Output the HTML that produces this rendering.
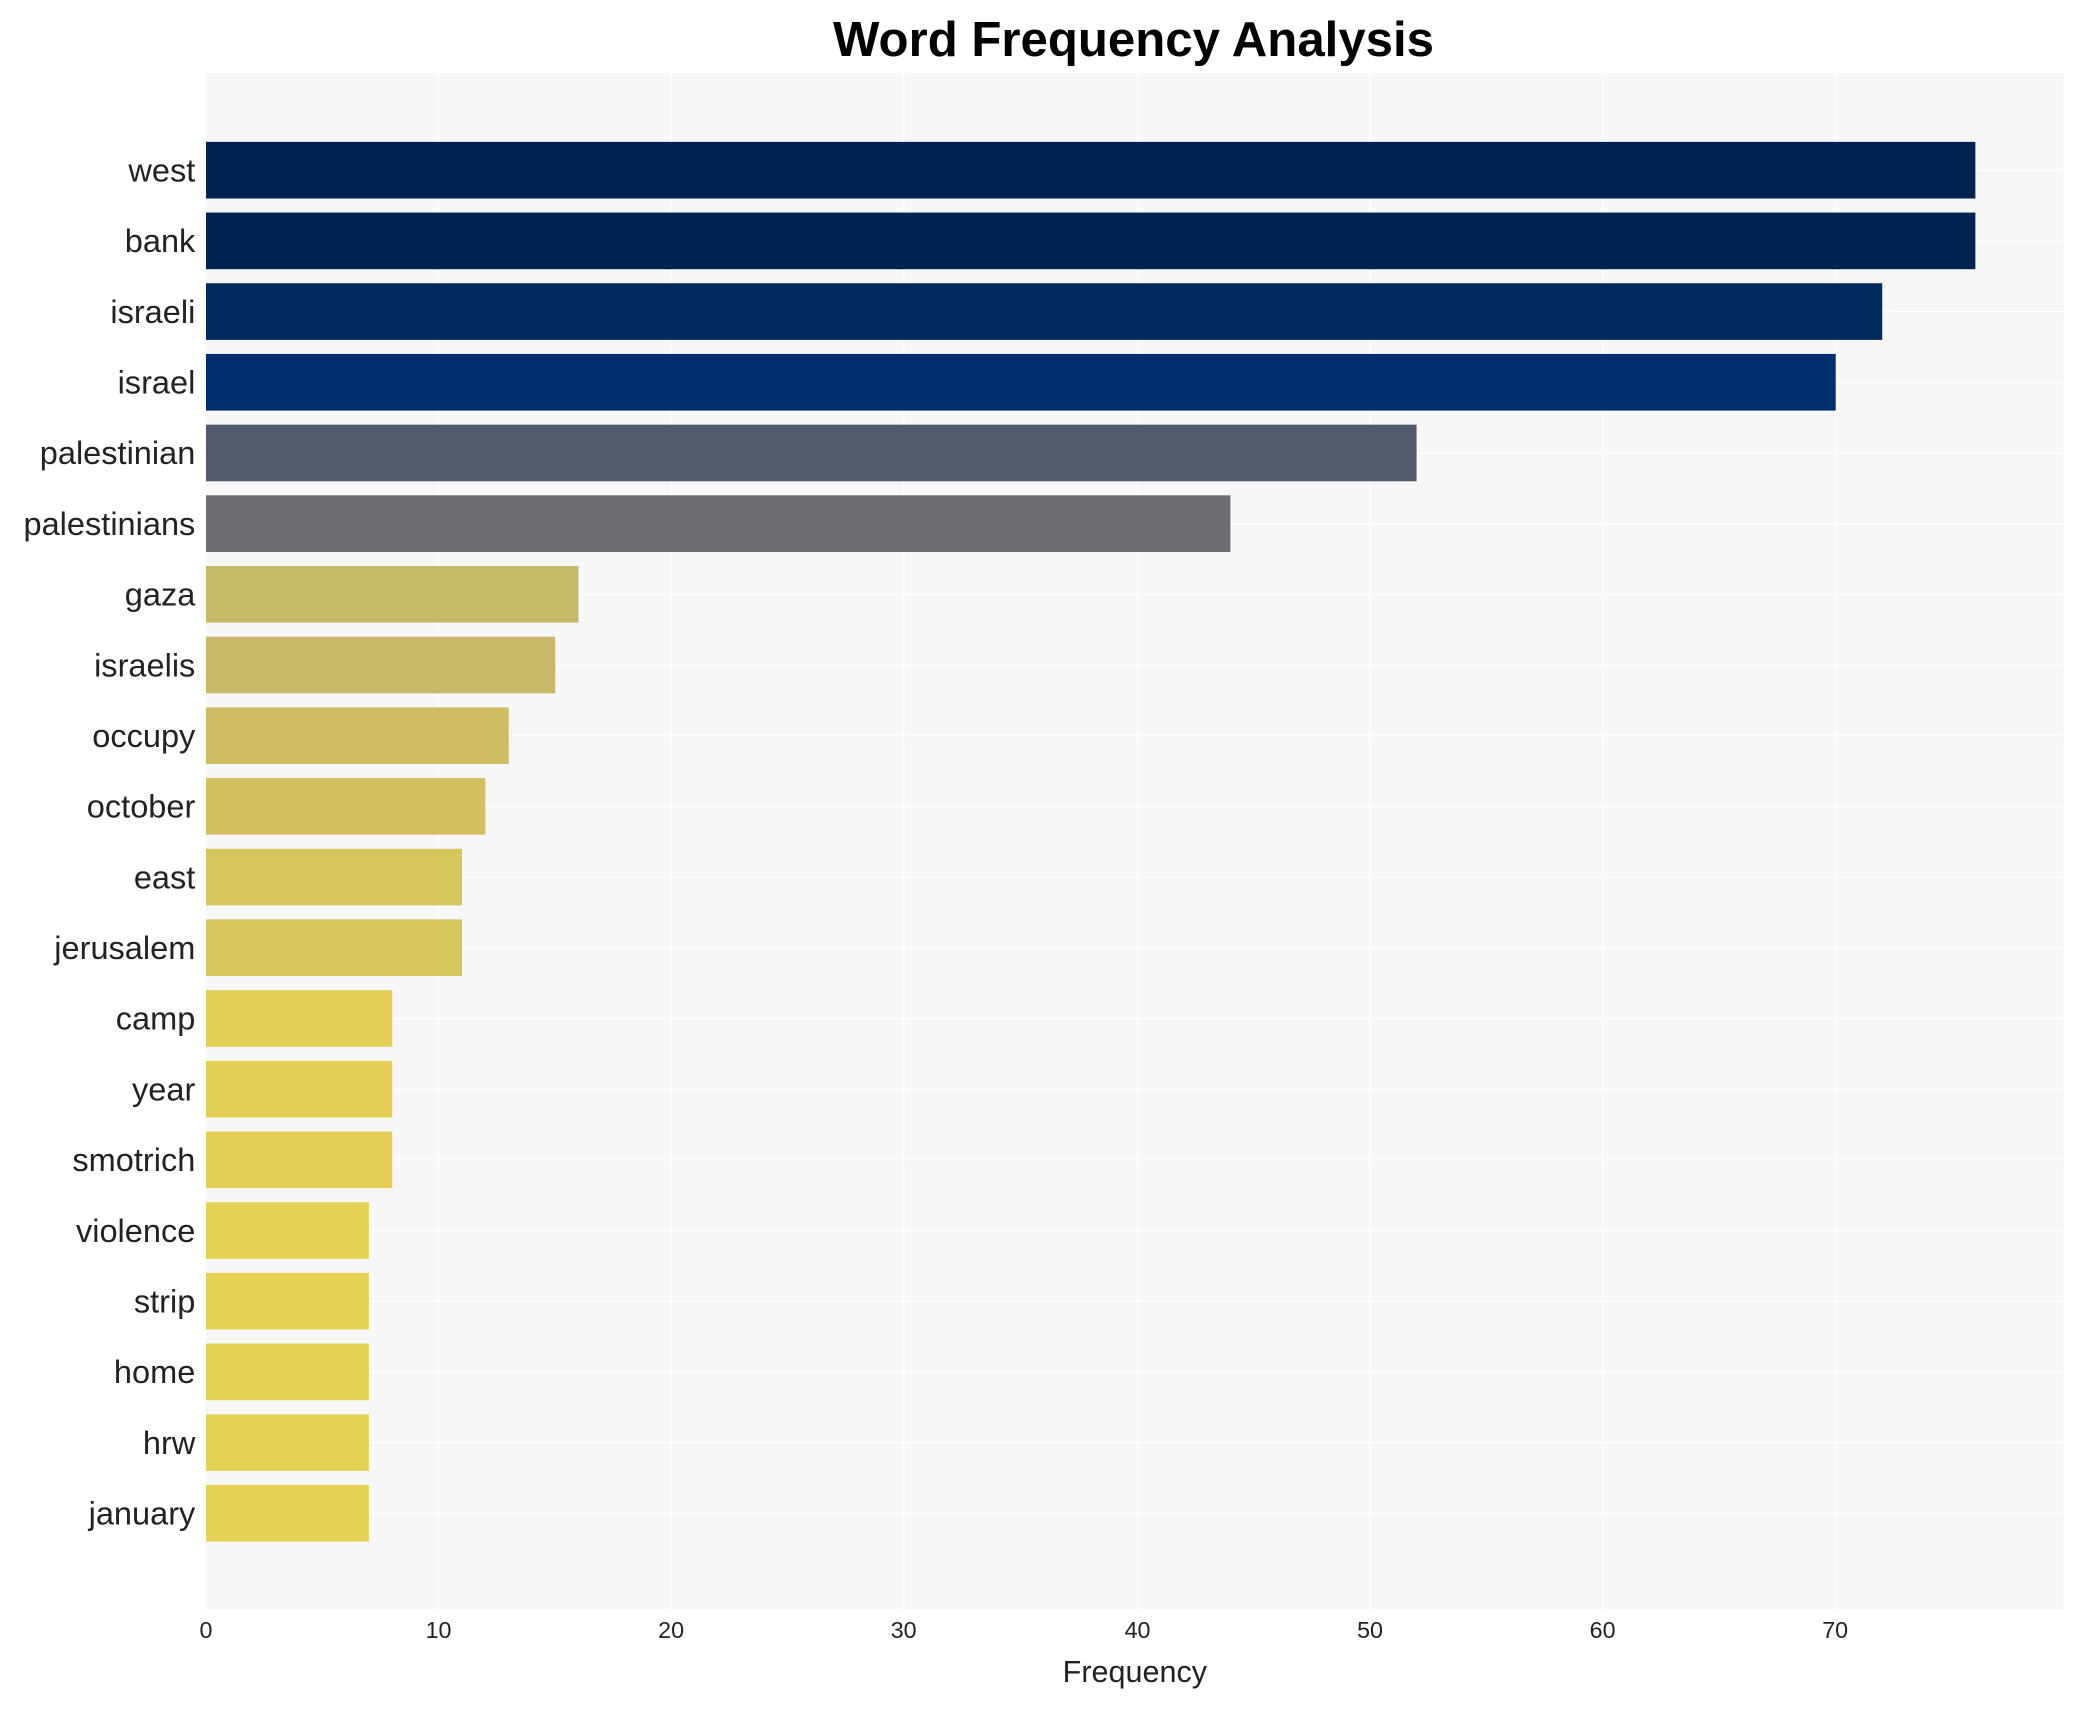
<!DOCTYPE html>
<html><head><meta charset="utf-8"><style>html,body{margin:0;padding:0;background:#fff}svg{display:block}</style></head>
<body>
<svg width="2085" height="1710" viewBox="0 0 1569 1286" preserveAspectRatio="none" xmlns="http://www.w3.org/2000/svg" font-family="Liberation Sans, Arial, sans-serif">
<rect width="1569" height="1286" fill="#fff"/>
<rect x="155" y="55" width="1398" height="1155" fill="#f7f7f7"/>
<g stroke="#fff" stroke-width="1">
<line x1="330" y1="55" x2="330" y2="1210"/><line x1="505" y1="55" x2="505" y2="1210"/><line x1="680" y1="55" x2="680" y2="1210"/><line x1="856" y1="55" x2="856" y2="1210"/><line x1="1031" y1="55" x2="1031" y2="1210"/><line x1="1206" y1="55" x2="1206" y2="1210"/><line x1="1381" y1="55" x2="1381" y2="1210"/>
<line x1="155" x2="1553" y1="128" y2="128"/><line x1="155" x2="1553" y1="181.16" y2="181.16"/><line x1="155" x2="1553" y1="234.32" y2="234.32"/><line x1="155" x2="1553" y1="287.48" y2="287.48"/><line x1="155" x2="1553" y1="340.64" y2="340.64"/><line x1="155" x2="1553" y1="393.8" y2="393.8"/><line x1="155" x2="1553" y1="446.96" y2="446.96"/><line x1="155" x2="1553" y1="500.12" y2="500.12"/><line x1="155" x2="1553" y1="553.28" y2="553.28"/><line x1="155" x2="1553" y1="606.44" y2="606.44"/><line x1="155" x2="1553" y1="659.6" y2="659.6"/><line x1="155" x2="1553" y1="712.76" y2="712.76"/><line x1="155" x2="1553" y1="765.92" y2="765.92"/><line x1="155" x2="1553" y1="819.08" y2="819.08"/><line x1="155" x2="1553" y1="872.24" y2="872.24"/><line x1="155" x2="1553" y1="925.4" y2="925.4"/><line x1="155" x2="1553" y1="978.56" y2="978.56"/><line x1="155" x2="1553" y1="1031.72" y2="1031.72"/><line x1="155" x2="1553" y1="1084.88" y2="1084.88"/><line x1="155" x2="1553" y1="1138.04" y2="1138.04"/>
</g>
<g>
<rect x="155" y="106.7" width="1331.5" height="42.6" fill="#00224e"/>
<rect x="155" y="159.86" width="1331.5" height="42.6" fill="#00224e"/>
<rect x="155" y="213.02" width="1261.4" height="42.6" fill="#022a5f"/>
<rect x="155" y="266.18" width="1226.4" height="42.6" fill="#002f6f"/>
<rect x="155" y="319.34" width="911" height="42.6" fill="#52596b"/>
<rect x="155" y="372.5" width="770.9" height="42.6" fill="#6c6d72"/>
<rect x="155" y="425.66" width="280.3" height="42.6" fill="#c6b869"/>
<rect x="155" y="478.82" width="262.8" height="42.6" fill="#c8b867"/>
<rect x="155" y="531.98" width="227.8" height="42.6" fill="#cebd63"/>
<rect x="155" y="585.14" width="210.2" height="42.6" fill="#d2c160"/>
<rect x="155" y="638.3" width="192.7" height="42.6" fill="#d6c45d"/>
<rect x="155" y="691.46" width="192.7" height="42.6" fill="#d6c45d"/>
<rect x="155" y="744.62" width="140.2" height="42.6" fill="#e3cf55"/>
<rect x="155" y="797.78" width="140.2" height="42.6" fill="#e3cf55"/>
<rect x="155" y="850.94" width="140.2" height="42.6" fill="#e3cf55"/>
<rect x="155" y="904.1" width="122.6" height="42.6" fill="#e5d153"/>
<rect x="155" y="957.26" width="122.6" height="42.6" fill="#e5d153"/>
<rect x="155" y="1010.42" width="122.6" height="42.6" fill="#e5d153"/>
<rect x="155" y="1063.58" width="122.6" height="42.6" fill="#e5d153"/>
<rect x="155" y="1116.74" width="122.6" height="42.6" fill="#e5d153"/>
</g>
<g font-size="24.5" text-anchor="end" fill="#222">
<text x="147" y="136.5">west</text>
<text x="147" y="189.66">bank</text>
<text x="147" y="242.82">israeli</text>
<text x="147" y="295.98">israel</text>
<text x="147" y="349.14">palestinian</text>
<text x="147" y="402.3">palestinians</text>
<text x="147" y="455.46">gaza</text>
<text x="147" y="508.62">israelis</text>
<text x="147" y="561.78">occupy</text>
<text x="147" y="614.94">october</text>
<text x="147" y="668.1">east</text>
<text x="147" y="721.26">jerusalem</text>
<text x="147" y="774.42">camp</text>
<text x="147" y="827.58">year</text>
<text x="147" y="880.74">smotrich</text>
<text x="147" y="933.9">violence</text>
<text x="147" y="987.06">strip</text>
<text x="147" y="1040.22">home</text>
<text x="147" y="1093.38">hrw</text>
<text x="147" y="1146.54">january</text>
</g>
<text x="853" y="42" font-size="37" font-weight="bold" text-anchor="middle" fill="#000">Word Frequency Analysis</text>
<g font-size="17.5" fill="#222" text-anchor="middle">
<text x="155" y="1232">0</text><text x="330" y="1232">10</text><text x="505" y="1232">20</text><text x="680" y="1232">30</text><text x="856" y="1232">40</text><text x="1031" y="1232">50</text><text x="1206" y="1232">60</text><text x="1381" y="1232">70</text>
</g>
<text x="854" y="1265" font-size="23" text-anchor="middle" fill="#222">Frequency</text>
</svg>
</body></html>
